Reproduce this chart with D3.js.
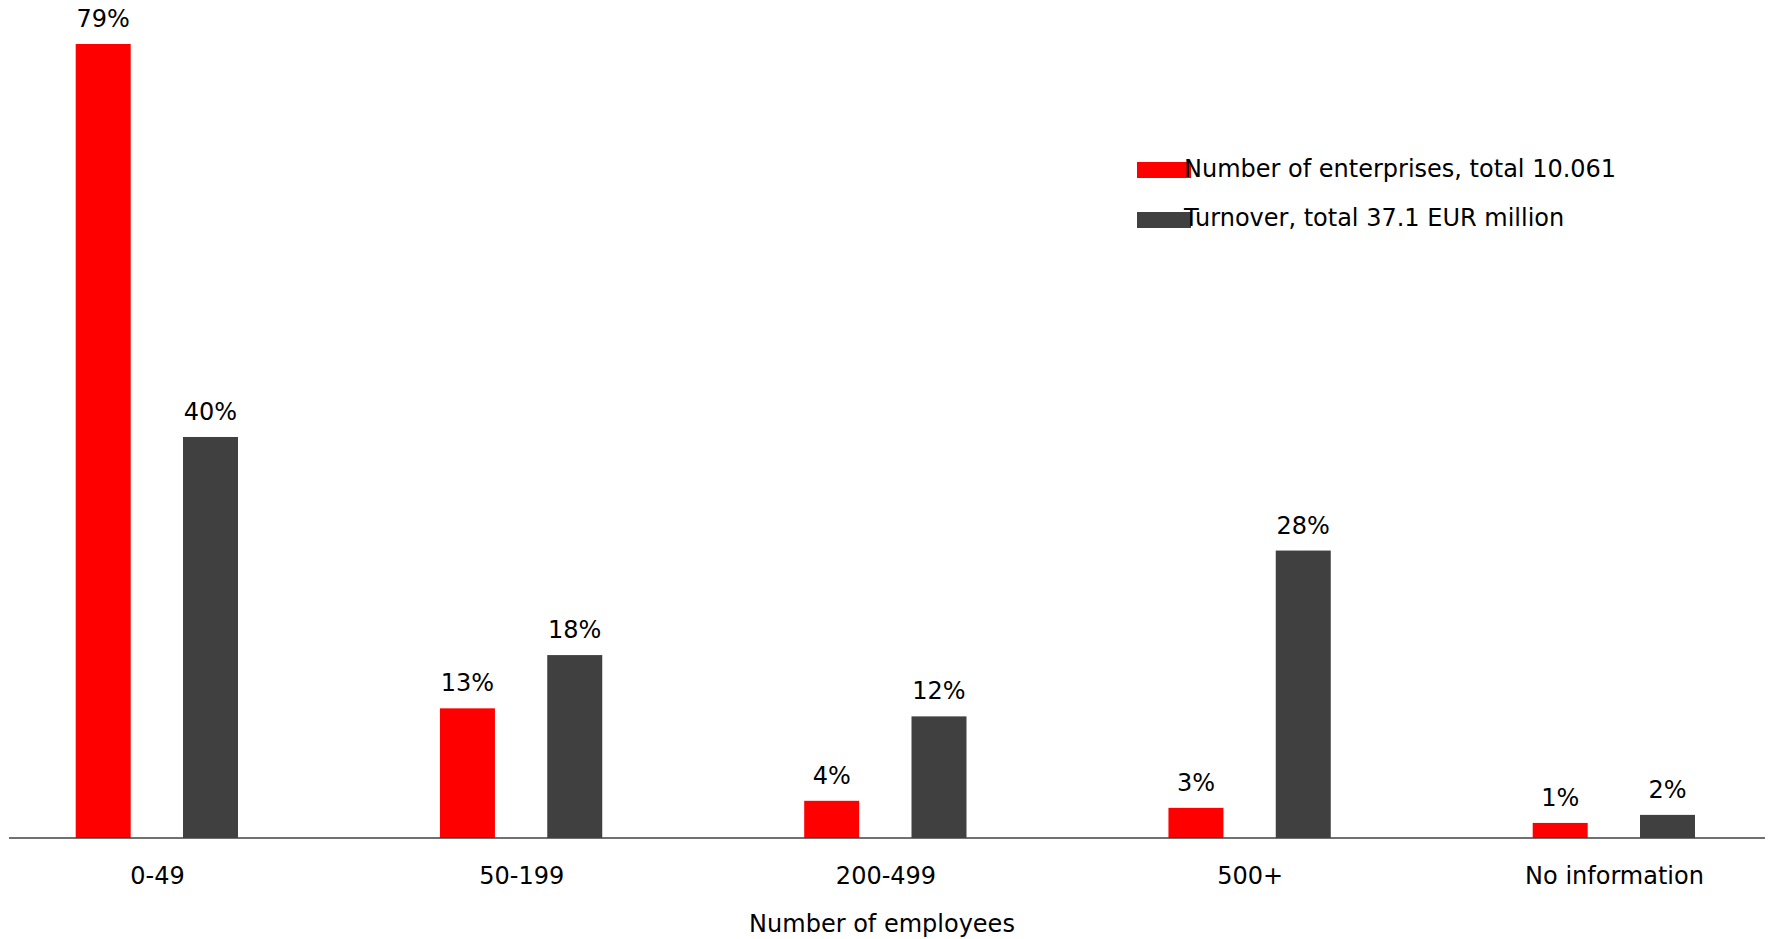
<!DOCTYPE html>
<html>
<head>
  <meta charset="utf-8">
  <style>
    body { margin: 0; background: #fff; }
    svg text { font-family: "DejaVu Sans", Verdana, sans-serif; font-size: 24px; fill: #000; }
  </style>
</head>
<body>
  <script src="https://d3js.org/d3.v7.min.js"></script>
  <script>
    // categories along the x axis
    const categories = ["0-49", "50-199", "200-499", "500+", "No information"];
    // bar values (percent)
    const enterprises = [79, 12.9, 3.7, 3.0, 1.5];
    const turnover = [39.9, 18.2, 12.1, 28.6, 2.3];
    // labels printed above the bars
    const enterpriseLabels = ["79%", "13%", "4%", "3%", "1%"];
    const turnoverLabels = ["40%", "18%", "12%", "28%", "2%"];
    const seriesNames = ["Number of enterprises, total 10.061", "Turnover, total 37.1 EUR million"];
    const colors = ["#ff0000", "#404040"];

    const w = 1771;
    const h = 939;
    const baseY = 838;
    const barW = 55;

    const svg = d3.select("body")
      .append("svg")
      .attr("width", w)
      .attr("height", h);

    const xScale = d3.scalePoint()
      .domain(categories)
      .range([157, 1614]);

    const yScale = d3.scaleLinear()
      .domain([0, 79])
      .range([baseY, 44]);

    // offsets of the two bars from the category centre
    const offsets = [-81.3, 26];
    const series = [
      { values: enterprises, labels: enterpriseLabels },
      { values: turnover, labels: turnoverLabels }
    ];

    series.forEach((s, i) => {
      const data = categories.map((c, j) => ({ cat: c, v: s.values[j], lab: s.labels[j] }));
      svg.append("g")
        .selectAll("rect")
        .data(data)
        .enter()
        .append("rect")
        .attr("x", (d) => xScale(d.cat) + offsets[i])
        .attr("y", (d) => yScale(d.v))
        .attr("width", barW)
        .attr("height", (d) => baseY - yScale(d.v))
        .attr("fill", colors[i]);

      svg.append("g")
        .selectAll("text")
        .data(data)
        .enter()
        .append("text")
        .attr("x", (d) => xScale(d.cat) + offsets[i] + barW / 2)
        .attr("y", (d) => yScale(d.v) - 17)
        .attr("text-anchor", "middle")
        .text((d) => d.lab);
    });

    // baseline
    svg.append("line")
      .attr("x1", 9)
      .attr("x2", 1765)
      .attr("y1", baseY)
      .attr("y2", baseY)
      .attr("stroke", "#404040")
      .attr("stroke-width", 1.5);

    // category labels
    const xAxis = d3.axisBottom(xScale).tickSize(0);
    const gx = svg.append("g")
      .attr("transform", "translate(0," + baseY + ")")
      .call(xAxis);
    gx.select(".domain").remove();
    gx.selectAll("text")
      .attr("y", 45.5)
      .attr("dy", null)
      .attr("font-family", null)
      .attr("font-size", null)
      .attr("fill", null);

    // axis title
    svg.append("text")
      .attr("x", 882)
      .attr("y", 932)
      .attr("text-anchor", "middle")
      .text("Number of employees");

    // legend
    const legend = svg.append("g");
    seriesNames.forEach((name, i) => {
      legend.append("rect")
        .attr("x", 1137)
        .attr("y", 162 + i * 50)
        .attr("width", 54)
        .attr("height", 16)
        .attr("fill", colors[i]);
      legend.append("text")
        .attr("x", 1184)
        .attr("y", 177 + i * 49)
        .text(name);
    });
  </script>
</body>
</html>
